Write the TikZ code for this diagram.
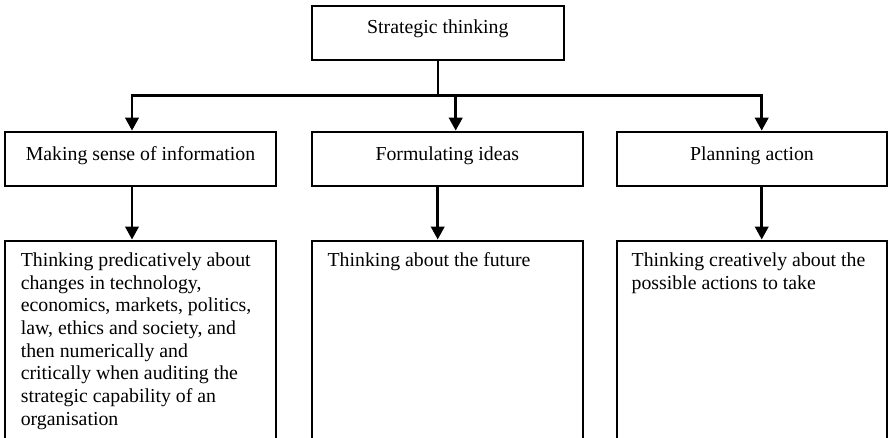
\documentclass[tikz,border=0pt]{standalone}
\usepackage{fontspec}
\setmainfont{Liberation Serif}
\usetikzlibrary{arrows.meta,calc}
\begin{document}
\begin{tikzpicture}[x=1pt,y=-1pt,
  box/.style={draw=black, line width=2.2pt, rectangle, inner sep=0pt,
    minimum height=54.3pt, minimum width=271pt,
    font=\fontsize{19.8}{22.7}\selectfont},
  midtext/.style={text height=13pt, text depth=9.7pt},
  bigbox/.style={draw=black, line width=2.2pt, rectangle, inner sep=0pt,
    minimum height=230pt, anchor=north},
  tb/.style={inner sep=0pt, align=left, anchor=north west,
    font=\fontsize{19.8}{22.7}\selectfont},
  line/.style={draw=black, line width=2.5pt},
  arr/.style={line/.try, draw=black, line width=2.5pt,
    -{Triangle[length=13pt,width=13.5pt]}}
]
\clip (0,0) rectangle (888,437);
\fill[white] (0,0) rectangle (888,437);

% top box
\node[box, minimum width=252.3pt, text height=13pt, text depth=12.1pt]
  (top) at (437.85,32.85) {Strategic thinking};

% middle boxes
\node[box, midtext] (m1) at (140.5,158.85) {Making sense of information};
\node[box, midtext] (m2) at (447.3,158.85) {Formulating ideas};
\node[box, midtext, minimum width=269.5pt] (m3) at (752,158.85) {Planning action};

% bottom boxes
\node[bigbox, minimum width=271pt] (b1) at (140.5,239.5) {};
\node[bigbox, minimum width=271pt] (b2) at (447.3,239.5) {};
\node[bigbox, minimum width=269.5pt] (b3) at (752,239.5) {};

\node[tb] (t1) at ($(b1.north west)+(16.7,13)$) {Thinking predicatively about\\
changes in technology,\\
economics, markets, politics,\\
law, ethics and society, and\\
then numerically and\\
critically when auditing the\\
strategic capability of an\\
organisation};
\node[tb] (t2) at ($(b2.north west)+(16.7,13)$) {Thinking about the future};
\node[tb] (t3) at ($(b3.north west)+(15.3,13)$) {Thinking creatively about the\\
possible actions to take};

% junction coordinates
\coordinate (j) at (437.85,95.7);
\coordinate (jl) at (132,95.7);
\coordinate (jm) at (455.7,95.7);
\coordinate (jr) at (761.7,95.7);
\coordinate (lm) at (437.7,95.7);

% connectors
\draw[line] (top.south) -- (j);
\draw[arr] (j) -| (jl |- m1.north);
\draw[arr] (j) -| (jr |- m3.north);
\draw[arr] (jm) -- (jm |- m2.north);

\draw[arr] (jl |- m1.south) -- (jl |- b1.north);
\draw[arr] (lm |- m2.south) -- (lm |- b2.north);
\draw[arr] (jr |- m3.south) -- (jr |- b3.north);
\end{tikzpicture}
\end{document}
